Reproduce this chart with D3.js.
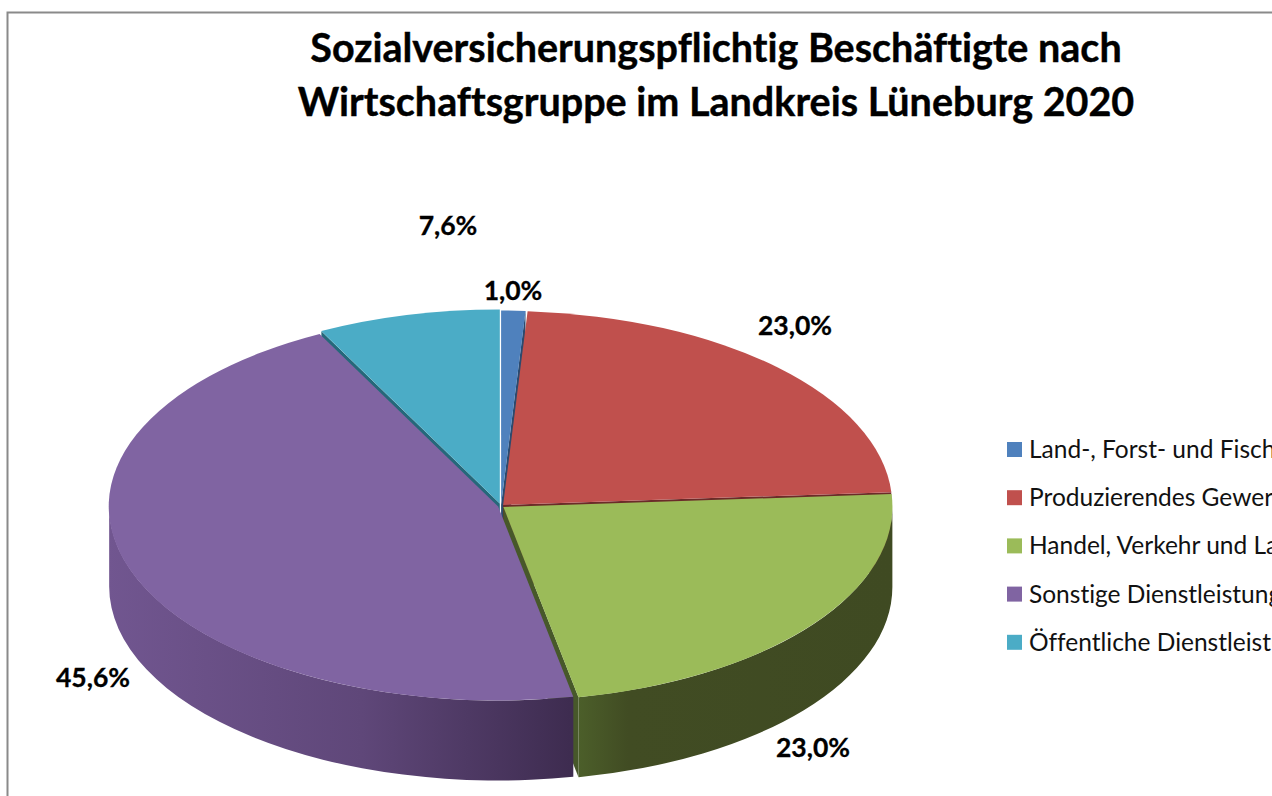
<!DOCTYPE html>
<html>

<head>
	<title>Beschäftigte Landkreis Lüneburg 2020</title>
	<meta charset="utf-8">
	<script src="https://cdn.jsdelivr.net/npm/d3@7"></script>
	<style>
		html, body { margin: 0; padding: 0; background: #fff; overflow: hidden; }
		svg { display: block; font-family: Lato, "Open Sans", sans-serif; font-variant-ligatures: none; }
	</style>
</head>

<body>
	<svg width="1272" height="796"></svg>

	<script>
		var categories = [
			"Land-, Forst- und Fischerei",
			"Produzierendes Gewerbe",
			"Handel, Verkehr und Lagerei",
			"Sonstige Dienstleistungen",
			"Öffentliche Dienstleistungen"
		]
		var values = [1.0, 23.0, 23.0, 45.6, 7.6]
		var titleLines = [
			"Sozialversicherungspflichtig Beschäftigte nach",
			"Wirtschaftsgruppe im Landkreis Lüneburg 2020"
		]

		var colors = ["#4f81bd", "#c0504d", "#9bbb59", "#8064a2", "#4bacc6"]
		var faceColors = ["#2c4a6e", "#6b2b29", "#47582a", "#3f2d52", "#25687a"]
		// manually placed data labels, same order as values
		var labelPos = [[513, 291], [795, 326], [813, 748], [93, 678], [448, 226]]
		var explode = [3, 3, 3, 3, 5]

		var cx = 501, cy = 506, rx = 389, ry = 194, depth = 80

		var svg = d3.select("svg")

		// frame
		svg.append("path")
			.attr("d", "M7.5,796V12.5H1272")
			.attr("fill", "none")
			.attr("stroke", "#8a8a8a")
			.attr("stroke-width", 2)

		// title
		svg.selectAll("text.title")
			.data(titleLines)
			.enter().append("text")
			.attr("class", "title")
			.attr("x", 716)
			.attr("y", function(d, i) { return 62 + i * 54 })
			.attr("text-anchor", "middle")
			.attr("font-size", 39.5)
			.attr("font-weight", 700)
			.attr("stroke", "#000")
			.attr("stroke-width", 0.4)
			.text(function(d) { return d })

		// side gradients, x is relative to the pie center
		var defs = svg.append("defs")
		var purple = defs.append("linearGradient").attr("id", "wall3")
			.attr("gradientUnits", "userSpaceOnUse")
			.attr("x1", -391).attr("x2", 72).attr("y1", 0).attr("y2", 0)
		purple.append("stop").attr("offset", 0).attr("stop-color", "#715690")
		purple.append("stop").attr("offset", 0.55).attr("stop-color", "#5f4779")
		purple.append("stop").attr("offset", 1).attr("stop-color", "#3e2c50")
		var green = defs.append("linearGradient").attr("id", "wall2")
			.attr("gradientUnits", "userSpaceOnUse")
			.attr("x1", 74).attr("x2", 390).attr("y1", 0).attr("y2", 0)
		green.append("stop").attr("offset", 0).attr("stop-color", "#4c5f2a")
		green.append("stop").attr("offset", 0.16).attr("stop-color", "#414c23")
		green.append("stop").attr("offset", 1).attr("stop-color", "#3f4a22")

		var pie = d3.pie().sort(null).value(function(d) { return d })
		var arcs = pie(values)
		var arc = d3.arc().innerRadius(0).outerRadius(1)

		function rim(a) {
			return [rx * Math.sin(a), -ry * Math.cos(a)]
		}

		function wallPath(a0, a1) {
			var p0 = rim(a0), p1 = rim(a1)
			return "M" + p0 + "A" + rx + "," + ry + " 0 0 1 " + p1 +
				"L" + [p1[0], p1[1] + depth] +
				"A" + rx + "," + ry + " 0 0 0 " + [p0[0], p0[1] + depth] + "Z"
		}

		function facePath(a) {
			var p = rim(a)
			return "M0,0L" + p + "L" + [p[0], p[1] + depth] + "L0," + depth + "Z"
		}

		// back to front
		var drawOrder = [0, 4, 1, 2, 3]
		drawOrder.forEach(function(i) {
			var d = arcs[i]
			var mid = (d.startAngle + d.endAngle) / 2
			var g = svg.append("g")
				.attr("transform", "translate(" +
					(cx + explode[i] * Math.sin(mid)) + "," +
					(cy - explode[i] * 0.5 * Math.cos(mid)) + ")")

			// only the cut faces turned towards the viewer
			if (Math.sin(d.startAngle) < -1e-6) {
				g.append("path").attr("d", facePath(d.startAngle)).attr("fill", faceColors[i])
			}
			if (Math.sin(d.endAngle) > 1e-6) {
				g.append("path").attr("d", facePath(d.endAngle)).attr("fill", faceColors[i])
			}

			// outer wall, front half only
			var a0 = Math.max(d.startAngle, Math.PI / 2)
			var a1 = Math.min(d.endAngle, Math.PI * 3 / 2)
			if (a1 > a0) {
				g.append("path")
					.attr("d", wallPath(a0, a1))
					.attr("fill", i == 3 || i == 2 ? "url(#wall" + i + ")" : faceColors[i])
			}

			// top
			g.append("path")
				.attr("d", arc(d))
				.attr("transform", "scale(" + rx + "," + ry + ")")
				.attr("fill", colors[i])
		})

		// data labels
		svg.selectAll("text.value")
			.data(values)
			.enter().append("text")
			.attr("class", "value")
			.attr("x", function(d, i) { return labelPos[i][0] })
			.attr("y", function(d, i) { return labelPos[i][1] + 9 })
			.attr("text-anchor", "middle")
			.attr("font-size", 26.5)
			.attr("font-weight", 700)
			.attr("stroke", "#000")
			.attr("stroke-width", 0.3)
			.text(function(d) { return d.toFixed(1).replace(".", ",") + "%" })

		// legend, runs off the right edge like in the original
		var legend = svg.selectAll("g.legend")
			.data(categories)
			.enter().append("g")
			.attr("class", "legend")
			.attr("transform", function(d, i) { return "translate(1007," + (442 + i * 48.2) + ")" })
		legend.append("rect")
			.attr("width", 15)
			.attr("height", 15)
			.attr("fill", function(d, i) { return colors[i] })
		legend.append("text")
			.attr("x", 22)
			.attr("y", 16)
			.attr("font-size", 24.5)
			.attr("fill", "#111")
			.text(function(d) { return d })
	</script>
</body>

</html>
